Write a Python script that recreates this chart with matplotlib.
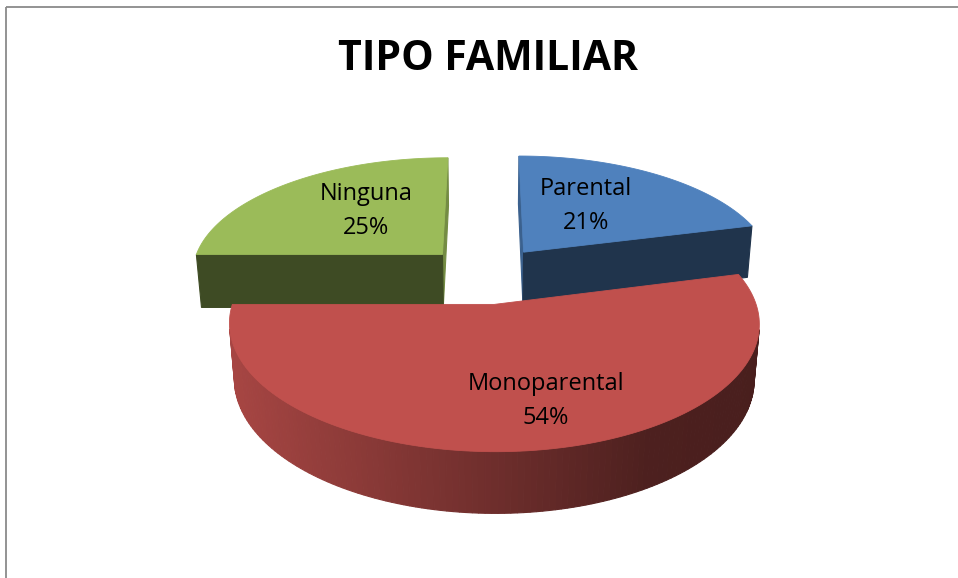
import numpy as np
import matplotlib
matplotlib.use("Agg")
import matplotlib.pyplot as plt
from matplotlib.patches import Polygon
from matplotlib.colors import to_rgb

# data
categories = ["Parental", "Monoparental", "Ninguna"]
values = [21, 54, 25]
colors = ["#4F81BD", "#C0504D", "#9BBB59"]
title = "TIPO FAMILIAR"

# label centres in pixels (layout only)
label_xy = [(586, 206), (546, 401), (366, 211)]

# 3D view of the pie (radius = 1)
phi = np.radians(27.4)
s, c = np.sin(phi), np.cos(phi)
D = 6.1           # camera distance
f = 1540          # focal length, px
h = 0.245         # pie thickness
explode = 0.25
ox, oy = 486, 274.5
cam = np.array([0.0, D * s, D * c])


def proj(X, Y, Z):
    w = D - Z * c - Y * s
    return ox + f * X / w, oy + f * (Z * s - Y * c) / w


def visible(normal, point):
    return np.dot(normal, cam - point) > 0


def shade(col, k):
    r, g, b = to_rgb(col)
    return (r * k, g * k, b * k)


fig = plt.figure(figsize=(9.58, 5.78), dpi=100)
ax = fig.add_axes([0, 0, 1, 1])
ax.set_xlim(0, 958)
ax.set_ylim(578, 0)
ax.axis("off")

# chart border (cut off at right / bottom)
ax.plot([6, 6], [578, 7], color="#8a8a8a", lw=1.3, solid_capstyle="butt")
ax.plot([6, 958], [7, 7], color="#8a8a8a", lw=1.3, solid_capstyle="butt")

total = float(sum(values))
slices = []
start = 0.0
for name, v, col in zip(categories, values, colors):
    t1 = start
    t2 = start + 360.0 * v / total
    start = t2
    m = np.radians((t1 + t2) / 2)
    cx, cz = explode * np.sin(m), -explode * np.cos(m)
    slices.append((cz, name, col, t1, t2, cx))

# far slices first
slices.sort(key=lambda t: t[0])

for cz, name, col, t1, t2, cx in slices:
    th = np.radians(np.linspace(t1, t2, 160))
    X = cx + np.sin(th)
    Z = cz - np.cos(th)
    faces = []

    # outer curved side
    for i in range(len(th) - 1):
        tm = 0.5 * (th[i] + th[i + 1])
        n = np.array([np.sin(tm), 0.0, -np.cos(tm)])
        p = np.array([0.5 * (X[i] + X[i + 1]), 0.0, 0.5 * (Z[i] + Z[i + 1])])
        if not visible(n, p):
            continue
        a = proj(X[i], 0, Z[i])
        b = proj(X[i + 1], 0, Z[i + 1])
        bb = proj(X[i + 1], -h, Z[i + 1])
        ab = proj(X[i], -h, Z[i])
        xm = 0.5 * (a[0] + b[0])
        k = np.interp(xm, [230, 650, 760], [0.87, 0.40, 0.38])
        faces.append((p[2], [a, b, bb, ab], shade(col, k)))

    # radial cut faces
    for ang, n in ((th[0], np.array([-np.cos(th[0]), 0.0, -np.sin(th[0])])),
                   (th[-1], np.array([np.cos(th[-1]), 0.0, np.sin(th[-1])]))):
        ex, ez = cx + np.sin(ang), cz - np.cos(ang)
        p = np.array([0.5 * (cx + ex), 0.0, 0.5 * (cz + ez)])
        if not visible(n, p):
            continue
        quad = [proj(cx, 0, cz), proj(ex, 0, ez), proj(ex, -h, ez), proj(cx, -h, cz)]
        k = 0.4 if abs(n[2]) > 0.7 else 0.75
        faces.append((p[2], quad, shade(col, k)))

    faces.sort(key=lambda t: t[0])
    for _, poly, fc in faces:
        ax.add_patch(Polygon(poly, closed=True, facecolor=fc, edgecolor=fc, lw=0.8))

    # top face
    tx, ty = proj(X, 0, Z)
    ctr = proj(cx, 0, cz)
    pts = [ctr] + list(zip(tx, ty))
    ax.add_patch(Polygon(pts, closed=True, facecolor=col, edgecolor=col, lw=0.6))

# data labels
for (lx, ly), name, v in zip(label_xy, categories, values):
    pct = "{:.0f}%".format(100.0 * v / total)
    ax.text(lx, ly, name + "\n" + pct, ha="center", va="center",
            fontsize=17, family="Open Sans", color="black", linespacing=1.55)

ax.text(488, 60, title, ha="center", va="center", fontsize=29.5,
        family="Open Sans", weight="bold", color="black")

fig.savefig("out.png", dpi=100)
